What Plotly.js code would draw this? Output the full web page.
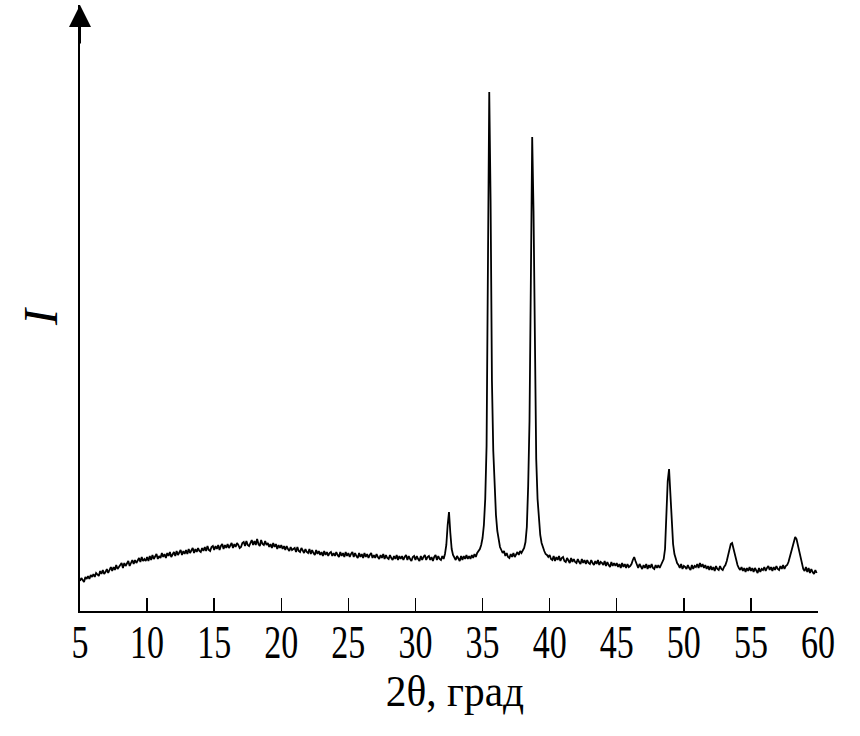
<!DOCTYPE html>
<html>
<head>
<meta charset="utf-8">
<script src="https://cdn.plot.ly/plotly-3.0.1.min.js"></script>
<style>
html,body{margin:0;padding:0;background:#fff;}
#chart{width:860px;height:736px;}
</style>
</head>
<body>
<div id="chart"></div>
<script>
// 2θ grid: start, step (degrees)
const twoThetaStart = 5.0;
const twoThetaStep = 0.1;

// Intensity (arbitrary units), 10 values per degree from 5.0 to 59.9
const intensity = [
  30,33,31,29,34,32,35,32,36,34,   // 5
  37,34,38,36,35,40,37,41,37,39,   // 6
  42,38,42,44,40,44,41,46,42,44,   // 7
  45,48,43,48,45,47,50,45,48,51,   // 8
  47,51,48,51,53,49,54,50,52,50,   // 9
  54,50,55,51,56,52,54,57,52,55,   // 10
  53,58,54,57,53,58,55,59,54,57,   // 11
  59,55,60,56,58,61,56,60,57,61,   // 12
  57,62,58,61,63,58,62,59,63,60,   // 13
  59,63,60,64,60,65,61,60,64,65,   // 14
  61,65,62,66,61,65,67,62,66,63,   // 15
  67,63,66,68,63,67,64,68,66,63,   // 16
  64,68,69,65,70,66,65,69,71,66,   // 17
  70,66,72,67,65,71,67,66,70,66,   // 18
  68,64,67,63,68,64,67,62,66,63,   // 19
  66,62,65,61,65,62,60,64,61,62,   // 20
  63,59,64,60,59,63,60,58,62,59,   // 21
  58,62,57,61,58,56,61,57,60,56,   // 22
  59,55,60,56,59,55,58,59,55,58,   // 23
  55,59,56,54,59,55,58,54,59,55,   // 24
  58,54,57,59,54,58,55,53,58,54,   // 25
  57,53,58,54,57,53,56,58,53,56,   // 26
  53,57,54,52,56,53,57,52,56,53,   // 27
  52,56,53,51,55,52,56,51,55,52,   // 28
  55,51,54,56,51,55,52,50,54,55,   // 29
  51,55,52,50,55,51,54,56,51,54,   // 30
  55,51,54,50,54,56,51,55,52,51,   // 31
  55,52,57,66,86,99,78,62,56,53,   // 32
  51,55,52,50,55,51,55,52,56,52,   // 33
  55,52,56,53,57,54,58,60,62,66,   // 34
  73,86,112,165,320,519,410,230,160,125, // 35
  96,80,70,64,61,58,60,55,58,54,   // 36
  53,57,54,58,54,57,59,56,60,58,   // 37
  60,63,69,84,125,190,330,474,400,235, // 38
  152,112,90,76,68,63,60,57,56,54, // 39
  56,52,51,55,50,54,51,55,50,53,   // 40
  54,50,49,53,50,48,53,49,52,49,   // 41
  48,52,49,47,52,48,51,47,51,48,   // 42
  47,51,48,46,50,47,51,46,49,48,   // 43
  46,50,45,49,46,44,49,45,48,45,   // 44
  48,44,47,43,48,44,47,43,47,44,   // 45
  45,47,51,54,50,47,43,47,44,42,   // 46
  46,43,47,42,46,43,47,43,42,46,   // 47
  43,46,43,46,48,52,62,92,130,142, // 48
  112,86,67,57,51,48,46,43,47,42,  // 49
  45,44,42,46,43,41,46,42,45,44,   // 50
  47,43,48,44,47,43,46,42,45,41,   // 51
  45,41,44,40,45,42,41,45,42,41,   // 52
  44,46,50,56,62,67,68,62,55,49,   // 53
  46,43,41,44,40,43,39,43,40,44,   // 54
  40,43,39,43,40,38,43,39,42,41,   // 55
  44,40,43,45,41,44,40,44,41,45,   // 56
  42,41,45,42,46,42,45,46,49,54,   // 57
  59,64,70,74,72,66,59,52,46,42,   // 58
  40,44,39,43,38,42,39,37,41,38    // 59
];

const xTickVals = [5,10,15,20,25,30,35,40,45,50,55,60];
const xTickText = ['5','10','15','20','25','30','35','40','45','50','55','60'];
const xTitle = '2θ, град';
const yTitle = 'I';

const twoTheta = intensity.map((_, i) => Math.round((twoThetaStart + i * twoThetaStep) * 10) / 10);

const serif = 'Liberation Serif, Times New Roman, serif';

const trace = {
  x: twoTheta,
  y: intensity,
  type: 'scatter',
  mode: 'lines',
  line: {color: '#000', width: 1.8},
  hoverinfo: 'skip',
  showlegend: false
};

const layout = {
  width: 860,
  height: 736,
  margin: {l: 80, r: 42, t: 5, b: 125},
  paper_bgcolor: '#fff',
  plot_bgcolor: '#fff',
  showlegend: false,
  xaxis: {
    range: [5, 60],
    tickvals: xTickVals,
    ticktext: xTickText,
    ticks: 'inside',
    ticklen: 13,
    tickwidth: 1.5,
    tickcolor: '#000',
    showline: true,
    linewidth: 2,
    linecolor: '#000',
    showgrid: false,
    zeroline: false,
    tickfont: {family: serif, size: 46, color: '#000'},
    title: {text: xTitle, font: {family: serif, size: 45, color: '#000'}, standoff: 0},
    automargin: false
  },
  yaxis: {
    range: [0, 606],
    showline: true,
    linewidth: 2,
    linecolor: '#000',
    showgrid: false,
    zeroline: false,
    ticks: '',
    showticklabels: false,
    title: {text: yTitle, font: {family: serif, size: 48, color: '#000', style: 'italic'}, standoff: 14},
    automargin: false
  },
  annotations: [{
    xref: 'paper', yref: 'paper', x: 0, y: 1,
    axref: 'pixel', ayref: 'pixel', ax: 0, ay: 40,
    text: '', showarrow: true,
    arrowhead: 2, arrowsize: 2.2, arrowwidth: 2, arrowcolor: '#000'
  }]
};

Plotly.newPlot('chart', [trace], layout, {displayModeBar: false, staticPlot: true}).then(function () {
  // condense the tall serif digits horizontally and lift them, as in the reference
  document.querySelectorAll('#chart .xtick text').forEach(function (t) {
    const tr = t.getAttribute('transform') || '';
    t.setAttribute('transform', tr + ' translate(0,-10) scale(0.74,1)');
  });
  const xt = document.querySelector('#chart .xtitle');
  if (xt) {
    const cx = parseFloat(xt.getAttribute('x')) || 0;
    xt.setAttribute('transform', 'translate(' + (cx + 6) + ',-12) scale(0.92,1) translate(' + (-cx) + ',0)');
  }
  const yt = document.querySelector('#chart .ytitle');
  if (yt) {
    const tr = yt.getAttribute('transform') || '';
    yt.setAttribute('transform', 'translate(9,9) ' + tr);
  }
});
</script>
</body>
</html>
